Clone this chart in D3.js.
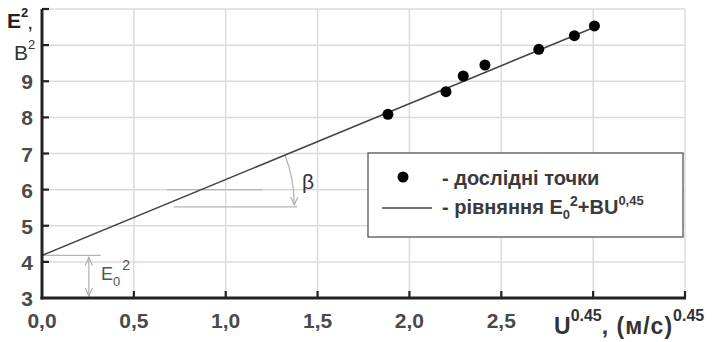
<!DOCTYPE html>
<html>
<head>
<meta charset="utf-8">
<script src="https://cdn.jsdelivr.net/npm/d3@7/dist/d3.min.js"></script>
<style>
  html, body { margin: 0; padding: 0; background: #fff; }
  svg { display: block; font-family: "Liberation Sans", Arial, sans-serif; }
</style>
</head>
<body>
<svg id="chart" width="716" height="342"></svg>
<script>
// Measured points: U^0.45 against E^2
const pointsX = [1.883, 2.199, 2.293, 2.411, 2.704, 2.898, 3.007];
const pointsY = [8.085, 8.71, 9.145, 9.45, 9.885, 10.26, 10.53];

// Fitted equation E^2 = E0^2 + B * U^0.45
const fitE0sq = 4.18;
const fitB = 2.1;
const fitRange = [0, 3.007];

// Axis ticks and labels
const xTicks = [0, 0.5, 1.0, 1.5, 2.0, 2.5, 3.0, 3.5];
const xTickLabels = ["0,0", "0,5", "1,0", "1,5", "2,0", "2,5", "", ""];
const yTicks = [3, 4, 5, 6, 7, 8, 9, 10, 11];
const yTickLabels = ["3", "4", "5", "6", "7", "8", "9", "", ""];

const legendLabels = ["- дослідні точки", "- рівняння E"];

const svg = d3.select("#chart");
const x = d3.scaleLinear().domain([0, 3.5]).range([42, 685]);
const y = d3.scaleLinear().domain([3, 11]).range([298, 9]);

// Grid
const grid = svg.append("g").attr("stroke", "#dcdcdc").attr("stroke-width", 1.5);
grid.selectAll(".gx").data(xTicks.slice(1)).join("line")
  .attr("x1", d => x(d)).attr("x2", d => x(d)).attr("y1", y(3)).attr("y2", y(11));
grid.selectAll(".gy").data(yTicks.slice(1)).join("line")
  .attr("x1", x(0)).attr("x2", x(3.5)).attr("y1", d => y(d)).attr("y2", d => y(d));

// Arrow heads for the construction lines
const defs = svg.append("defs");
["arrEnd", "arrStart"].forEach((id, i) => {
  defs.append("marker").attr("id", id).attr("viewBox", "0 0 10 10")
    .attr("refX", 9).attr("refY", 5).attr("markerWidth", 7).attr("markerHeight", 7)
    .attr("orient", i === 0 ? "auto" : "auto-start-reverse")
    .append("path").attr("d", "M0,1 L9,5 L0,9").attr("fill", "none")
    .attr("stroke", "#aaa").attr("stroke-width", 1.2);
});

// E0^2 construction: level of the intercept and a double arrow down to the axis
const ann = svg.append("g").attr("stroke", "#b5b5b5").attr("stroke-width", 1.3).attr("fill", "none");
ann.append("line").attr("x1", x(0)).attr("x2", x(0.32))
  .attr("y1", y(fitE0sq)).attr("y2", y(fitE0sq));
ann.append("line").attr("x1", x(0.255)).attr("x2", x(0.255))
  .attr("y1", y(fitE0sq) + 2).attr("y2", y(3) - 2)
  .attr("marker-start", "url(#arrStart)").attr("marker-end", "url(#arrEnd)");

// Slope angle construction
const betaBaseY = 5.52;
const betaCx = (betaBaseY - fitE0sq) / fitB;
ann.append("line").attr("x1", x(betaCx + 0.08)).attr("x2", x(1.39))
  .attr("y1", y(betaBaseY)).attr("y2", y(betaBaseY));
ann.append("line").attr("x1", x(0.68)).attr("x2", x(1.2))
  .attr("y1", y(6)).attr("y2", y(6));
const cx = x(betaCx), cy = y(betaBaseY);
const ang = Math.atan2(y(10) - y(fitE0sq), x((10 - fitE0sq) / fitB) - x(0));
const R = 136;
ann.append("path")
  .attr("d", `M${cx + R * Math.cos(ang)},${cy + R * Math.sin(ang)} A${R},${R} 0 0 1 ${cx + R - 1},${cy - 2}`)
  .attr("marker-end", "url(#arrEnd)");
svg.append("text").attr("x", 302).attr("y", 189)
  .attr("font-size", 21).attr("fill", "#333").text("β");

svg.append("text").attr("x", 101).attr("y", 280).attr("font-size", 18).attr("fill", "#555")
  .html('E<tspan font-size="13" dy="6">0</tspan><tspan font-size="14" dy="-16" dx="2">2</tspan>');

// Fitted line
svg.append("line")
  .attr("x1", x(fitRange[0])).attr("y1", y(fitE0sq + fitB * fitRange[0]))
  .attr("x2", x(fitRange[1])).attr("y2", y(fitE0sq + fitB * fitRange[1]))
  .attr("stroke", "#444").attr("stroke-width", 1.6);

// Experimental points
svg.append("g").selectAll("circle").data(pointsX).join("circle")
  .attr("cx", d => x(d)).attr("cy", (d, i) => y(pointsY[i])).attr("r", 5.5)
  .attr("fill", "#000");

// Axes (ticks pointing inward)
const axisG = svg.append("g").attr("stroke", "#222");
axisG.append("line").attr("x1", x(0)).attr("x2", x(0)).attr("y1", y(11)).attr("y2", y(3) + 1.5)
  .attr("stroke-width", 3);
axisG.append("line").attr("x1", x(0) - 1.5).attr("x2", x(3.5) + 1).attr("y1", y(3)).attr("y2", y(3))
  .attr("stroke-width", 3);
axisG.selectAll(".ty").data(yTicks.slice(1)).join("line")
  .attr("x1", x(0)).attr("x2", x(0) + 7).attr("y1", d => y(d)).attr("y2", d => y(d))
  .attr("stroke-width", 2.2);
axisG.selectAll(".tx").data(xTicks.slice(1)).join("line")
  .attr("x1", d => x(d)).attr("x2", d => x(d)).attr("y1", y(3)).attr("y2", y(3) - 7)
  .attr("stroke-width", 2.2);

// Tick labels
const lab = svg.append("g").attr("font-size", 21).attr("font-weight", "bold").attr("fill", "#4a4a4a");
lab.selectAll(".lx").data(xTicks).join("text")
  .attr("x", d => x(d)).attr("y", 328).attr("text-anchor", "middle")
  .text((d, i) => xTickLabels[i]);
lab.selectAll(".ly").data(yTicks).join("text")
  .attr("x", 33).attr("y", d => y(d) + 8).attr("text-anchor", "end")
  .text((d, i) => yTickLabels[i]);

// Axis titles
svg.append("text").attr("x", 7).attr("y", 28).attr("font-size", 21).attr("font-weight", "bold").attr("fill", "#222")
  .html('E<tspan font-size="13" dy="-11">2</tspan><tspan dy="12" font-size="14">,</tspan>');
svg.append("text").attr("x", 14).attr("y", 60).attr("font-size", 21).attr("fill", "#333")
  .html('B<tspan font-size="13" dy="-11">2</tspan>');
svg.append("text").attr("x", 554).attr("y", 334).attr("font-size", 23).attr("font-weight", "bold").attr("fill", "#333")
  .html('U<tspan font-size="16" dy="-13">0.45</tspan><tspan dy="13" font-size="23" letter-spacing="1">, (м/с)</tspan><tspan font-size="16" dy="-13">0.45</tspan>');

// Legend
const lg = svg.append("g");
lg.append("rect").attr("x", 368).attr("y", 153).attr("width", 315).attr("height", 84)
  .attr("fill", "#fff").attr("stroke", "#555").attr("stroke-width", 1.3);
lg.append("circle").attr("cx", 403).attr("cy", 177).attr("r", 5.5).attr("fill", "#000");
lg.append("line").attr("x1", 382).attr("x2", 432).attr("y1", 208).attr("y2", 208)
  .attr("stroke", "#444").attr("stroke-width", 1.4);
const lgText = lg.append("g").attr("font-size", 20).attr("font-weight", "bold").attr("fill", "#3a3a3a");
lgText.append("text").attr("x", 442).attr("y", 185).text(legendLabels[0]);
lgText.append("text").attr("x", 442).attr("y", 214)
  .html(legendLabels[1] + '<tspan font-size="13" dy="5">0</tspan><tspan font-size="14" dy="-13">2</tspan><tspan dy="8">+BU</tspan><tspan font-size="13" dy="-9">0,45</tspan>');
</script>
</body>
</html>
